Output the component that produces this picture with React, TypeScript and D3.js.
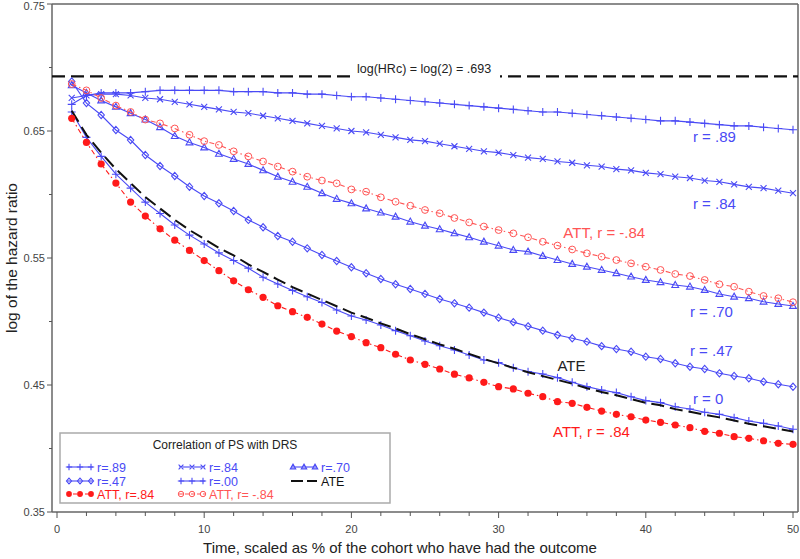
import React from "react";
import * as d3 from "d3";

const times: number[] = d3.range(1, 51);

const r89: number[] = [
  0.671, 0.678, 0.68, 0.68, 0.68, 0.681, 0.682, 0.682, 0.682, 0.682,
  0.682, 0.681, 0.681, 0.681, 0.68, 0.68, 0.679, 0.679, 0.678, 0.677,
  0.677, 0.676, 0.675, 0.674, 0.673, 0.672, 0.671, 0.67, 0.669, 0.668,
  0.667, 0.666, 0.665, 0.665, 0.664, 0.663, 0.662, 0.661, 0.66, 0.659,
  0.658, 0.658, 0.657, 0.656, 0.655, 0.654, 0.654, 0.653, 0.652, 0.651,
];
const r84: number[] = [
  0.676, 0.678, 0.679, 0.679, 0.678, 0.676, 0.675, 0.673, 0.671, 0.669,
  0.667, 0.665, 0.664, 0.662, 0.66, 0.658, 0.656, 0.654, 0.652, 0.65,
  0.649, 0.647, 0.645, 0.643, 0.642, 0.64, 0.638, 0.636, 0.634, 0.633,
  0.631, 0.629, 0.628, 0.626, 0.625, 0.623, 0.622, 0.62, 0.619, 0.617,
  0.616, 0.614, 0.613, 0.611, 0.61, 0.608, 0.606, 0.605, 0.603, 0.601,
];
const r70: number[] = [
  0.686, 0.68, 0.674, 0.669, 0.664, 0.659, 0.653, 0.646, 0.641, 0.637,
  0.632, 0.628, 0.624, 0.619, 0.614, 0.61, 0.606, 0.601, 0.5965, 0.593,
  0.589, 0.5857, 0.5825, 0.5786, 0.5754, 0.5726, 0.5694, 0.5663, 0.5628, 0.5597,
  0.5563, 0.555, 0.5516, 0.5484, 0.5453, 0.5431, 0.5406, 0.538, 0.5353, 0.5327,
  0.5309, 0.5287, 0.5274, 0.5248, 0.5217, 0.5195, 0.5183, 0.5156, 0.5138, 0.5122,
];
const r47: number[] = [
  0.689, 0.672, 0.6626, 0.6508, 0.6429, 0.6311, 0.6224, 0.6146, 0.6061, 0.5988,
  0.5931, 0.587, 0.58, 0.5742, 0.5673, 0.5628, 0.5576, 0.5524, 0.5476, 0.5427,
  0.538, 0.5335, 0.5293, 0.5256, 0.5217, 0.5177, 0.5143, 0.5109, 0.507, 0.503,
  0.4995, 0.4962, 0.4928, 0.4894, 0.4868, 0.4841, 0.4806, 0.4783, 0.4762, 0.4723,
  0.4705, 0.4671, 0.4644, 0.4626, 0.4592, 0.4571, 0.4553, 0.4526, 0.4506, 0.4486,
];
const r00: number[] = [
  0.665, 0.645, 0.63, 0.616, 0.605, 0.594, 0.585, 0.576, 0.568, 0.561,
  0.554, 0.548, 0.542, 0.5348, 0.5295, 0.5245, 0.5195, 0.515, 0.5091, 0.5043,
  0.5012, 0.4972, 0.4928, 0.4888, 0.4846, 0.4809, 0.4776, 0.4736, 0.4697, 0.4676,
  0.4636, 0.4605, 0.4587, 0.4558, 0.4521, 0.4487, 0.446, 0.444, 0.4408, 0.4377,
  0.4361, 0.4329, 0.4311, 0.4285, 0.4269, 0.4243, 0.4216, 0.4198, 0.4177, 0.4151,
];
const ate: number[] = [
  0.666, 0.647, 0.633, 0.62, 0.609, 0.598, 0.589, 0.58, 0.572, 0.565,
  0.558, 0.552, 0.545, 0.539, 0.533, 0.527, 0.522, 0.517, 0.512, 0.507,
  0.503, 0.4985, 0.4945, 0.49, 0.486, 0.482, 0.4785, 0.4745, 0.4705, 0.467,
  0.4635, 0.46, 0.457, 0.454, 0.451, 0.4475, 0.4445, 0.442, 0.439, 0.436,
  0.434, 0.431, 0.429, 0.4265, 0.4245, 0.422, 0.4195, 0.4175, 0.4155, 0.4134,
];
const attPos: number[] = [
  0.66, 0.641, 0.624, 0.609, 0.594, 0.583, 0.573, 0.564, 0.556, 0.548,
  0.54, 0.532, 0.525, 0.519, 0.5124, 0.5077, 0.5033, 0.498, 0.4925, 0.4881,
  0.4833, 0.4794, 0.4742, 0.4697, 0.4663, 0.4626, 0.4585, 0.4556, 0.4521, 0.4487,
  0.4469, 0.4435, 0.4408, 0.4369, 0.4356, 0.4324, 0.4295, 0.4269, 0.425, 0.4224,
  0.4206, 0.4185, 0.4164, 0.4135, 0.412, 0.4093, 0.408, 0.4061, 0.4041, 0.4033,
];
const attNeg: number[] = [
  0.687, 0.682, 0.676, 0.67, 0.665, 0.659, 0.656, 0.652, 0.647, 0.642,
  0.639, 0.634, 0.63, 0.626, 0.622, 0.618, 0.614, 0.611, 0.6088, 0.604,
  0.6022, 0.5978, 0.5943, 0.5912, 0.5878, 0.5852, 0.5815, 0.578, 0.5748, 0.572,
  0.5694, 0.5663, 0.5628, 0.5598, 0.5567, 0.5537, 0.551, 0.5484, 0.5458, 0.5431,
  0.5406, 0.5374, 0.5358, 0.5327, 0.5293, 0.5274, 0.5235, 0.5201, 0.5183, 0.5152,
];

const refValue = 0.693;
const refLabel = "log(HRc) = log(2) = .693";
const yTicks: number[] = [0.35, 0.45, 0.55, 0.65, 0.75];
const yTickLabels: string[] = ["0.35", "0.45", "0.55", "0.65", "0.75"];
const xTicks: number[] = [0, 10, 20, 30, 40, 50];

const BLUE = "#4a4af5";
const RED = "#ff1a1a";
const LRED = "#ff5555";

type Marker = "plus" | "cross" | "tri" | "diamond" | "dot" | "ring" | "none";

interface Series {
  key: string;
  values: number[];
  color: string;
  marker: Marker;
  dash?: string;
  width: number;
  legend: string;
  legendColor: string;
  label: string;
  labelColor: string;
}

const series: Series[] = [
  { key: "r89", values: r89, color: BLUE, marker: "plus", width: 1.1, legend: "r=.89", legendColor: BLUE, label: "r = .89", labelColor: BLUE },
  { key: "r84", values: r84, color: BLUE, marker: "cross", width: 1.1, legend: "r=.84", legendColor: BLUE, label: "r = .84", labelColor: BLUE },
  { key: "r70", values: r70, color: BLUE, marker: "tri", width: 1.1, legend: "r=.70", legendColor: BLUE, label: "r = .70", labelColor: BLUE },
  { key: "r47", values: r47, color: BLUE, marker: "diamond", width: 1.1, legend: "r=.47", legendColor: BLUE, label: "r = .47", labelColor: BLUE },
  { key: "r00", values: r00, color: BLUE, marker: "plus", width: 1.1, legend: "r=.00", legendColor: BLUE, label: "r = 0", labelColor: BLUE },
  { key: "ate", values: ate, color: "#111", marker: "none", dash: "13,6", width: 2, legend: "ATE", legendColor: "#111", label: "ATE", labelColor: "#222" },
  { key: "attPos", values: attPos, color: RED, marker: "dot", dash: "5,3,1.5,3", width: 1.1, legend: "ATT, r=.84", legendColor: RED, label: "ATT, r = .84", labelColor: RED },
  { key: "attNeg", values: attNeg, color: LRED, marker: "ring", dash: "5,3,1.5,3", width: 1.1, legend: "ATT, r= -.84", legendColor: LRED, label: "ATT, r = -.84", labelColor: LRED },
];

// label anchor positions in data space (time, value) — baseline
const labelPos: Record<string, [number, number]> = {
  r89: [43.2, 0.641],
  r84: [43.2, 0.5886],
  r70: [43.0, 0.5035],
  r47: [43.0, 0.4728],
  r00: [43.2, 0.435],
  ate: [34.0, 0.461],
  attPos: [33.7, 0.409],
  attNeg: [34.4, 0.5655],
};

function markerPath(m: Marker, x: number, y: number, k: number): string {
  switch (m) {
    case "plus":
      return `M${x - 4 * k},${y}h${8 * k}M${x},${y - 4 * k}v${8 * k}`;
    case "cross":
      return `M${x - 3 * k},${y - 3 * k}l${6 * k},${6 * k}M${x - 3 * k},${y + 3 * k}l${6 * k},${-6 * k}`;
    case "tri":
      return `M${x},${y - 3.6 * k}L${x + 3.4 * k},${y + 2.4 * k}L${x - 3.4 * k},${y + 2.4 * k}Z`;
    case "diamond":
      return `M${x},${y - 3.6 * k}L${x + 3.2 * k},${y}L${x},${y + 3.6 * k}L${x - 3.2 * k},${y}Z`;
    default:
      return "";
  }
}

function Markers({ m, color, pts, k = 1 }: { m: Marker; color: string; pts: [number, number][]; k?: number }) {
  if (m === "none") return null;
  if (m === "dot")
    return (
      <g fill={color}>
        {pts.map(([x, y], i) => (
          <circle key={i} cx={x} cy={y} r={3.6 * k} />
        ))}
      </g>
    );
  if (m === "ring")
    return (
      <g fill="none" stroke={color} strokeWidth={1}>
        {pts.map(([x, y], i) => (
          <circle key={i} cx={x} cy={y} r={3.4 * k} />
        ))}
      </g>
    );
  return (
    <path
      d={pts.map(([x, y]) => markerPath(m, x, y, k)).join("")}
      fill="none"
      stroke={color}
      strokeWidth={1.1}
    />
  );
}

export default function App() {
  const W = 800;
  const H = 559;
  const left = 52;
  const right = 798;
  const top = 4;
  const bottom = 512;
  const x = d3.scaleLinear().domain([0, 50]).range([57, 793]);
  const y = d3.scaleLinear().domain([0.35, 0.75]).range([bottom, top]);
  const line = d3
    .line<number>()
    .x((_, i) => x(times[i]))
    .y((v) => y(v));

  const font = "'Liberation Sans', Arial, sans-serif";
  const xMinor = d3.range(0, 51, 2);
  const yMinor = d3.range(0.4, 0.75, 0.1);

  const legendRows: { key: string; col: number; row: number }[] = [
    { key: "r89", col: 0, row: 0 },
    { key: "r84", col: 1, row: 0 },
    { key: "r70", col: 2, row: 0 },
    { key: "r47", col: 0, row: 1 },
    { key: "r00", col: 1, row: 1 },
    { key: "ate", col: 2, row: 1 },
    { key: "attPos", col: 0, row: 2 },
    { key: "attNeg", col: 1, row: 2 },
  ];
  const colX = [67, 179, 291];
  const rowY = [467, 481, 494];

  const yRef = y(refValue);

  return (
    <svg width={W} height={H} style={{ display: "block", position: "absolute", left: 0, top: 0, background: "#fff" }} fontFamily={font}>
      <rect x={0} y={0} width={W} height={H} fill="#fff" />
      {/* frame */}
      <g stroke="#666" strokeWidth={1.5} fill="none">
        <line x1={left} y1={top} x2={right} y2={top} />
        <line x1={right} y1={top} x2={right} y2={bottom} />
        <line x1={left} y1={top} x2={left} y2={bottom} />
        <line x1={left} y1={bottom} x2={right} y2={bottom} />
      </g>
      {/* ticks */}
      <g stroke="#555" strokeWidth={1}>
        {yTicks.map((t) => (
          <line key={"yt" + t} x1={left - 5} x2={left} y1={y(t)} y2={y(t)} />
        ))}
        {yMinor.map((t) => (
          <line key={"ym" + t} x1={left - 3} x2={left} y1={y(t)} y2={y(t)} />
        ))}
        {xMinor.map((t) => (
          <line key={"xm" + t} x1={x(t)} x2={x(t)} y1={bottom} y2={bottom + (t % 10 === 0 ? 6 : 4)} />
        ))}
      </g>
      <g fontSize={11} fill="#444">
        {yTicks.map((t, i) => (
          <text key={"yl" + t} x={left - 7} y={Math.max(y(t) + 4, 10)} textAnchor="end">
            {yTickLabels[i]}
          </text>
        ))}
        {xTicks.map((t) => (
          <text key={"xl" + t} x={x(t)} y={bottom + 21} textAnchor="middle">
            {t}
          </text>
        ))}
      </g>
      <text x={400} y={553} textAnchor="middle" fontSize={15} fill="#222">
        Time, scaled as % of the cohort who have had the outcome
      </text>
      <text transform={`translate(17,${(top + bottom) / 2}) rotate(-90)`} textAnchor="middle" fontSize={15.5} fill="#222">
        log of the hazard ratio
      </text>

      {/* reference line */}
      <line x1={left} x2={right} y1={yRef} y2={yRef} stroke="#111" strokeWidth={2.2} strokeDasharray="13,6" />
      <rect x={353} y={yRef - 13} width={147} height={16} fill="#fff" />
      <text x={357} y={yRef - 3} fontSize={12.5} fill="#222">
        {refLabel}
      </text>

      {/* series */}
      {series.map((s) => {
        const pts: [number, number][] = s.values.map((v, i) => [x(times[i]), y(v)]);
        return (
          <g key={s.key}>
            <path d={line(s.values) || ""} fill="none" stroke={s.color} strokeWidth={s.width} strokeDasharray={s.dash} />
            <Markers m={s.marker} color={s.color} pts={pts} />
          </g>
        );
      })}

      {/* right labels */}
      <g fontSize={15}>
        {series.map((s) => {
          const [t, v] = labelPos[s.key];
          return (
            <text key={"lab" + s.key} x={x(t)} y={y(v)} fill={s.labelColor}>
              {s.label}
            </text>
          );
        })}
      </g>

      {/* legend */}
      <rect x={60} y={433} width={330} height={70} fill="#fff" stroke="#aaa" strokeWidth={1.5} />
      <text x={225} y={449} textAnchor="middle" fontSize={12} fill="#222">
        Correlation of PS with DRS
      </text>
      {legendRows.map((r) => {
        const s = series.find((d) => d.key === r.key)!;
        const x0 = colX[r.col];
        const yy = rowY[r.row];
        const pts: [number, number][] = [
          [x0 + 2, yy],
          [x0 + 13, yy],
          [x0 + 24, yy],
        ];
        return (
          <g key={"lg" + r.key}>
            <line x1={x0} x2={x0 + 26} y1={yy} y2={yy} stroke={s.color} strokeWidth={s.key === "ate" ? 2.2 : 1.1} strokeDasharray={s.key === "ate" ? "12,4" : s.dash ? "4,2" : undefined} />
            <Markers m={s.marker} color={s.color} pts={pts} k={0.8} />
            <text x={x0 + 30} y={yy + 4.5} fontSize={12.5} fill={s.legendColor}>
              {s.legend}
            </text>
          </g>
        );
      })}
    </svg>
  );
}
